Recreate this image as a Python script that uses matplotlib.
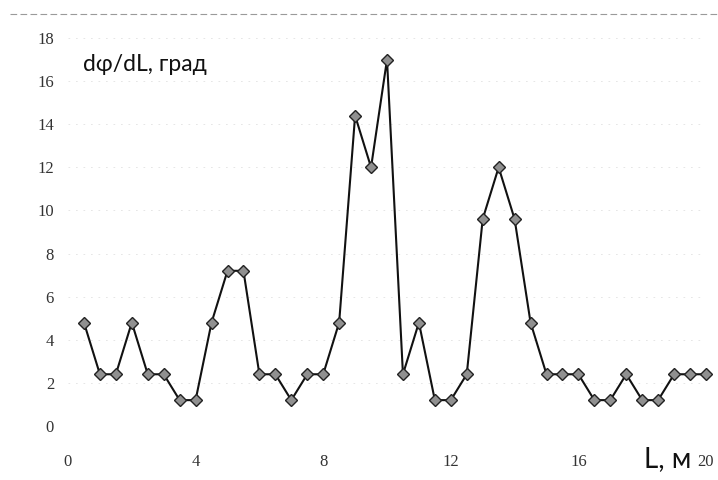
import matplotlib
matplotlib.use("Agg")
import matplotlib.pyplot as plt
from matplotlib.lines import Line2D

# Distance along the sample, m
L = [0.5, 1.0, 1.5, 2.0, 2.5, 3.0, 3.5, 4.0, 4.5, 5.0,
     5.5, 6.0, 6.5, 7.0, 7.5, 8.0, 8.5, 9.0, 9.5, 10.0,
     10.5, 11.0, 11.5, 12.0, 12.5, 13.0, 13.5, 14.0, 14.5, 15.0,
     15.5, 16.0, 16.5, 17.0, 17.5, 18.0, 18.5, 19.0, 19.5, 20.0]
# Angle gradient dphi/dL, degrees
dphi = [4.8, 2.4, 2.4, 4.8, 2.4, 2.4, 1.2, 1.2, 4.8, 7.2,
        7.2, 2.4, 2.4, 1.2, 2.4, 2.4, 4.8, 14.4, 12.0, 17.0,
        2.4, 4.8, 1.2, 1.2, 2.4, 9.6, 12.0, 9.6, 4.8, 2.4,
        2.4, 2.4, 1.2, 1.2, 2.4, 1.2, 1.2, 2.4, 2.4, 2.4]

x_ticks = [0, 4, 8, 12, 16, 20]
y_ticks = [0, 2, 4, 6, 8, 10, 12, 14, 16, 18]

fig = plt.figure(figsize=(7.18, 4.8), dpi=100)
ax = fig.add_axes([68/718, 54/480, 638/718, 388/480])

ax.plot(L, dphi, color="#111111", lw=1.5, marker="D", ms=6.5,
        mfc="#909090", mec="#222222", mew=1.0, clip_on=False, zorder=3)

ax.set_xlim(0, 20)
ax.set_ylim(0, 18)
ax.set_xticks(x_ticks)
ax.set_yticks(y_ticks)
for s in ax.spines.values():
    s.set_visible(False)
ax.tick_params(length=0, labelsize=12, labelcolor="#333333")
ax.tick_params(axis="y", pad=10)
ax.tick_params(axis="x", pad=20)
for lab in ax.get_xticklabels() + ax.get_yticklabels():
    lab.set_family("Liberation Serif")

# faint dotted grid
ax.grid(axis="y", color="#e2e2e2", lw=0.6, ls=(0, (2, 7)))
ax.set_axisbelow(True)

ax.text(0.48, 16.75, "dφ/dL, град", fontsize=16.5, family="Lato",
        color="#111111", ha="left", va="center")
fig.text(644/718, 13/480, "L, м", fontsize=20, family="Lato",
         color="#111111", ha="left", va="baseline")

# dashed frame line along the top
fig.add_artist(Line2D([10/718, 1.0], [1 - 14/480, 1 - 14/480],
                      color="#9a9a9a", lw=0.8, ls=(0, (6, 3))))

fig.savefig("out.png", dpi=100)
